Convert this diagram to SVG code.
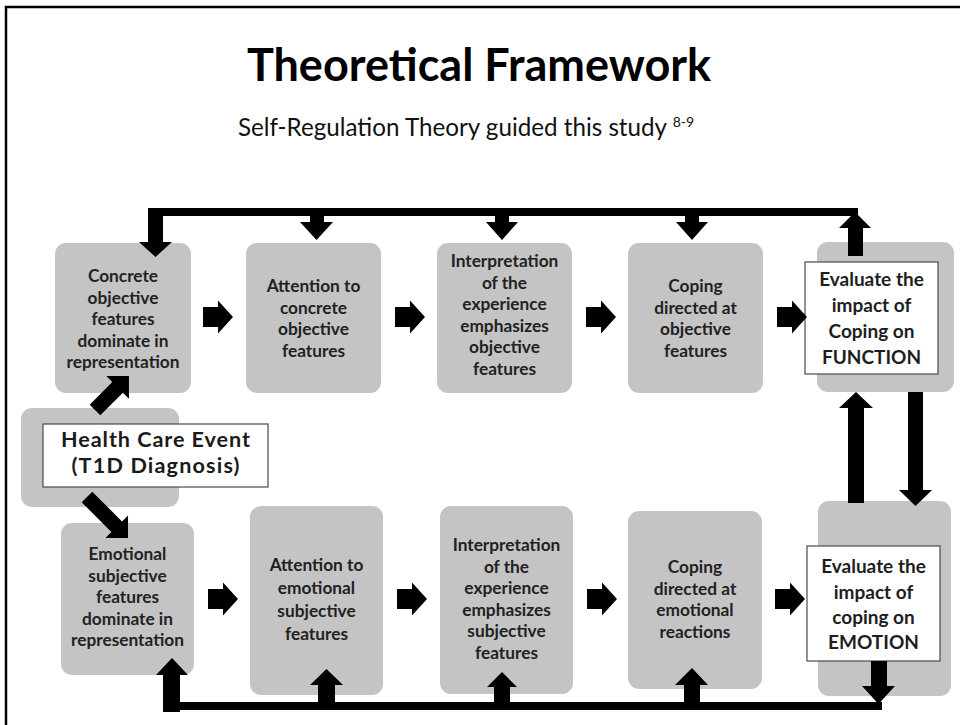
<svg xmlns="http://www.w3.org/2000/svg" xmlns:xlink="http://www.w3.org/1999/xlink" width="960" height="725" viewBox="0 0 960 725">
<style>
.box{fill:#c4c4c4;}
.wbox{fill:#ffffff;stroke:#4a4a4a;stroke-width:1.2;}
.t{font-family:Lato,"Open Sans","Liberation Sans",sans-serif;font-weight:700;font-size:17.3px;fill:#222222;text-anchor:middle;}
.tw{font-family:Lato,"Open Sans","Liberation Sans",sans-serif;font-weight:700;font-size:19px;fill:#1e1e1e;text-anchor:middle;}
.ev{font-family:Lato,"Open Sans","Liberation Sans",sans-serif;font-weight:700;font-size:21.6px;fill:#1a1a1a;text-anchor:middle;}
.ar{fill:#000000;}
</style>
<defs>
<polygon id="ra" points="0,-10 15,-10 15,-16.5 30,0 15,16.5 15,10 0,10"/>
</defs>
<rect width="960" height="725" fill="#ffffff"/>
<path d="M6 725 V7 H960" fill="none" stroke="#000" stroke-width="2.5"/>
<text x="479" y="81" style="font-family:Lato,'Open Sans','Liberation Sans',sans-serif;font-weight:700;font-size:45px;fill:#000;text-anchor:middle;">Theoretical Framework</text>
<text x="466" y="136" style="font-family:Lato,'Open Sans','Liberation Sans',sans-serif;font-size:24.2px;fill:#111;text-anchor:middle;">Self-Regulation Theory guided this study <tspan dy="-9" style="font-size:14px">8-9</tspan></text>

<g id="n-concrete"><rect class="box" x="55" y="243" width="136" height="150" rx="11"/>
<text class="t"><tspan x="123" y="282">Concrete</tspan><tspan x="123" y="303.5">objective</tspan><tspan x="123" y="325">features</tspan><tspan x="123" y="346.5">dominate in</tspan><tspan x="123" y="368">representation</tspan></text></g>
<g id="n-attn-obj"><rect class="box" x="246" y="243" width="135" height="150" rx="11"/>
<text class="t"><tspan x="313.5" y="292">Attention to</tspan><tspan x="313.5" y="313.5">concrete</tspan><tspan x="313.5" y="335">objective</tspan><tspan x="313.5" y="356.5">features</tspan></text></g>
<g id="n-interp-obj"><rect class="box" x="437" y="243" width="135" height="150" rx="11"/>
<text class="t"><tspan x="504.5" y="267">Interpretation</tspan><tspan x="504.5" y="288.6">of the</tspan><tspan x="504.5" y="310.2">experience</tspan><tspan x="504.5" y="331.8">emphasizes</tspan><tspan x="504.5" y="353.4">objective</tspan><tspan x="504.5" y="375">features</tspan></text></g>
<g id="n-coping-obj"><rect class="box" x="628" y="243" width="135" height="150" rx="11"/>
<text class="t"><tspan x="695.5" y="292">Coping</tspan><tspan x="695.5" y="313.5">directed at</tspan><tspan x="695.5" y="335">objective</tspan><tspan x="695.5" y="356.5">features</tspan></text></g>
<g id="n-eval-function"><rect class="box" x="817" y="242" width="137" height="150" rx="11"/>
<rect class="wbox" x="805" y="262" width="133" height="112"/>
<text class="tw"><tspan x="871.5" y="286">Evaluate the</tspan><tspan x="871.5" y="312">impact of</tspan><tspan x="871.5" y="338">Coping  on</tspan><tspan x="871.5" y="364">FUNCTION</tspan></text></g>

<g id="n-event"><rect class="box" x="21" y="408" width="158" height="99" rx="11"/>
<rect class="wbox" x="43" y="424" width="225" height="63"/>
<text class="ev" x="155.5" y="447" textLength="189">Health Care Event</text>
<text class="ev" x="155.5" y="473" textLength="168">(T1D Diagnosis)</text></g>

<g id="n-emotional"><rect class="box" x="61" y="523" width="133" height="152" rx="11"/>
<text class="t"><tspan x="127.5" y="560">Emotional</tspan><tspan x="127.5" y="581.5">subjective</tspan><tspan x="127.5" y="603">features</tspan><tspan x="127.5" y="624.5">dominate in</tspan><tspan x="127.5" y="646">representation</tspan></text></g>
<g id="n-attn-emo"><rect class="box" x="250" y="506" width="133" height="189" rx="11"/>
<text class="t"><tspan x="316.5" y="571">Attention to</tspan><tspan x="316.5" y="594">emotional</tspan><tspan x="316.5" y="617">subjective</tspan><tspan x="316.5" y="640">features</tspan></text></g>
<g id="n-interp-subj"><rect class="box" x="440" y="506" width="133" height="188" rx="11"/>
<text class="t"><tspan x="506.5" y="551">Interpretation</tspan><tspan x="506.5" y="572.6">of the</tspan><tspan x="506.5" y="594.2">experience</tspan><tspan x="506.5" y="615.8">emphasizes</tspan><tspan x="506.5" y="637.4">subjective</tspan><tspan x="506.5" y="659">features</tspan></text></g>
<g id="n-coping-emo"><rect class="box" x="628" y="511" width="134" height="178" rx="11"/>
<text class="t"><tspan x="695" y="573">Coping</tspan><tspan x="695" y="594.7">directed at</tspan><tspan x="695" y="616.4">emotional</tspan><tspan x="695" y="638">reactions</tspan></text></g>
<g id="n-eval-emotion"><rect class="box" x="818" y="501" width="133" height="195" rx="11"/>
<rect class="wbox" x="807" y="546" width="133" height="115"/>
<text class="tw"><tspan x="873.5" y="573">Evaluate the</tspan><tspan x="873.5" y="598.5">impact of</tspan><tspan x="873.5" y="623.5">coping on</tspan><tspan x="873.5" y="649">EMOTION</tspan></text></g>

<g id="connectors" class="ar">
<!-- top feedback loop -->
<rect x="148" y="208" width="710" height="8"/>
<polygon points="148,208 163,208 163,242 172,242 155.5,257 139,242 148,242"/>
<polygon points="310,214 324,214 324,222 333,222 316.5,240 300,222 310,222"/>
<polygon points="495,214 509,214 509,222 518,222 502,240 486,222 495,222"/>
<polygon points="685,214 699,214 699,222 708,222 692,240 676,222 685,222"/>
<polygon points="848,256 863,256 863,228 871,228 855,212 839,228 848,228"/>
<!-- row 1 arrows -->
<use xlink:href="#ra" href="#ra" x="203" y="317"/>
<use xlink:href="#ra" href="#ra" x="395" y="317"/>
<use xlink:href="#ra" href="#ra" x="586" y="317"/>
<use xlink:href="#ra" href="#ra" x="777" y="317"/>
<!-- row 2 arrows -->
<use xlink:href="#ra" href="#ra" x="208" y="599"/>
<use xlink:href="#ra" href="#ra" x="397" y="599"/>
<use xlink:href="#ra" href="#ra" x="587" y="599"/>
<use xlink:href="#ra" href="#ra" x="775" y="599"/>
<!-- diagonal arrows from event -->
<polygon transform="translate(95,410) rotate(-45)" points="0,-7.5 32,-7.5 32,-16 48,0 32,16 32,7.5 0,7.5"/>
<polygon transform="translate(87,497) rotate(45)" points="0,-7.5 42,-7.5 42,-16 58,0 42,16 42,7.5 0,7.5"/>
<!-- vertical arrows between evaluate boxes -->
<polygon points="848,503 864,503 864,408 873,408 856,392 839,408 848,408"/>
<polygon points="908,392 923,392 923,490 932,490 915.5,506 899,490 908,490"/>
<!-- bottom feedback loop -->
<rect x="163" y="702" width="719" height="8"/>
<polygon points="163,712 180,712 180,675 188,675 172,658 156,675 163,675"/>
<polygon points="318,703 335,703 335,685 343,685 326.5,669 310,685 318,685"/>
<polygon points="494,703 510,703 510,687 517,687 502,672 487,687 494,687"/>
<polygon points="684,703 700,703 700,685 708,685 692,668 675,685 684,685"/>
<polygon points="871,661 887,661 887,686 895,686 878.5,704 862,686 871,686"/>
</g>
</svg>
